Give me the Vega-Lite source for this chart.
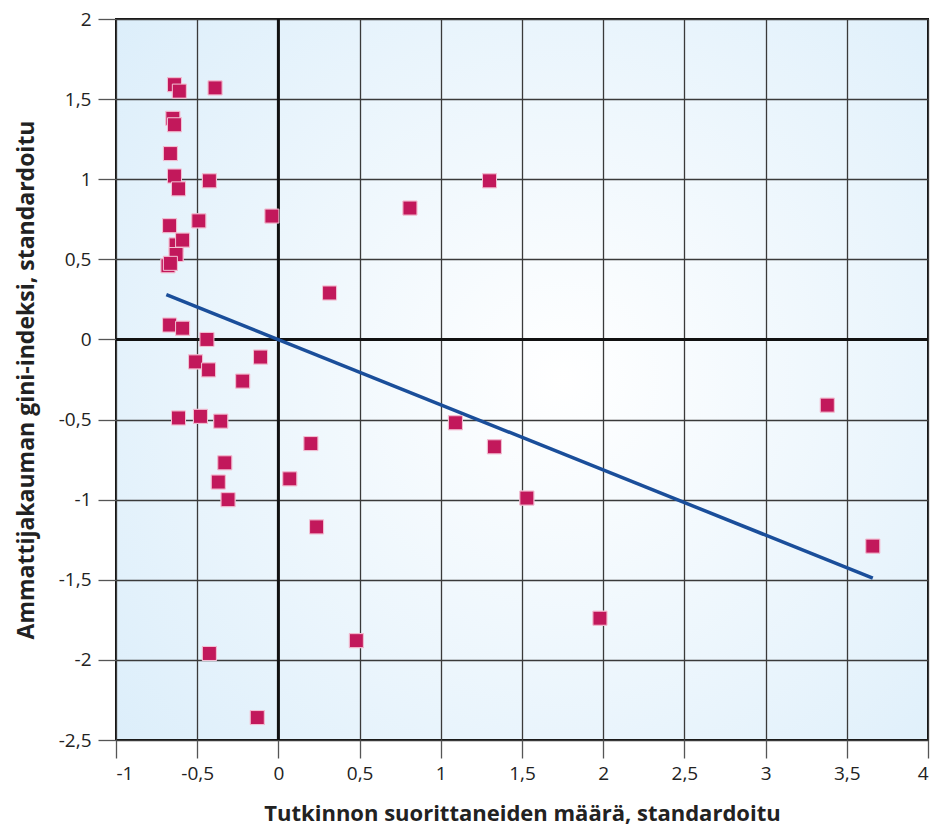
{
  "$schema": "https://vega.github.io/schema/vega-lite/v6.json",
  "width": 812,
  "height": 721,
  "autosize": {"type": "none"},
  "padding": {"left": 116, "top": 19, "right": 16, "bottom": 89},
  "background": "white",
  "config": {
    "font": "Open Sans",
    "view": {
      "stroke": "#111111",
      "strokeWidth": 2,
      "fill": {"gradient": "radial", "x1": 0.55, "y1": 0.5, "r1": 0, "x2": 0.55, "y2": 0.5, "r2": 0.75,
        "stops": [{"offset": 0, "color": "#FFFFFF"}, {"offset": 1, "color": "#DAEDFA"}]}
    },
    "axis": {
      "grid": true,
      "gridColor": "#3a3a3a",
      "gridWidth": 1.3,
      "gridOpacity": 1,
      "domain": false,
      "tickColor": "#555555",
      "tickWidth": 1.3,
      "tickSize": 18,
      "labelFont": "Open Sans",
      "labelFontSize": 19,
      "labelColor": "#222222",
      "titleFont": "Open Sans",
      "titleFontSize": 22,
      "titleFontWeight": "bold",
      "titleColor": "#222222"
    }
  },
  "datasets": {
    "points": [
      {"x": -0.64, "y": 1.59}, {"x": -0.61, "y": 1.55}, {"x": -0.39, "y": 1.57},
      {"x": -0.65, "y": 1.38}, {"x": -0.64, "y": 1.34}, {"x": -0.665, "y": 1.16},
      {"x": -0.64, "y": 1.02}, {"x": -0.615, "y": 0.94}, {"x": -0.425, "y": 0.99},
      {"x": -0.67, "y": 0.71}, {"x": -0.49, "y": 0.74}, {"x": -0.04, "y": 0.77},
      {"x": -0.63, "y": 0.59}, {"x": -0.59, "y": 0.62}, {"x": -0.63, "y": 0.53},
      {"x": -0.68, "y": 0.46}, {"x": -0.665, "y": 0.475}, {"x": -0.67, "y": 0.09},
      {"x": -0.59, "y": 0.07}, {"x": -0.44, "y": 0.0}, {"x": -0.51, "y": -0.14},
      {"x": -0.43, "y": -0.19}, {"x": -0.11, "y": -0.11}, {"x": -0.22, "y": -0.26},
      {"x": -0.615, "y": -0.49}, {"x": -0.48, "y": -0.48}, {"x": -0.355, "y": -0.51},
      {"x": -0.33, "y": -0.77}, {"x": -0.37, "y": -0.89}, {"x": -0.31, "y": -1.0},
      {"x": -0.425, "y": -1.96}, {"x": -0.13, "y": -2.36}, {"x": 0.48, "y": -1.88},
      {"x": 0.07, "y": -0.87}, {"x": 0.2, "y": -0.65}, {"x": 0.235, "y": -1.17},
      {"x": 0.315, "y": 0.29}, {"x": 0.81, "y": 0.82}, {"x": 1.3, "y": 0.99},
      {"x": 1.09, "y": -0.52}, {"x": 1.33, "y": -0.67}, {"x": 1.53, "y": -0.99},
      {"x": 1.98, "y": -1.74}, {"x": 3.38, "y": -0.41}, {"x": 3.66, "y": -1.29}
    ],
    "trend": [
      {"x": -0.69, "y": 0.28}, {"x": 3.66, "y": -1.49}
    ],
    "zero": [{"v": 0}]
  },
  "layer": [
    {
      "data": {"name": "points"},
      "mark": {"type": "square", "size": 196, "color": "#C2185B", "opacity": 1, "stroke": "#F3C4D6", "strokeWidth": 1},
      "encoding": {
        "x": {"field": "x", "type": "quantitative",
          "scale": {"domain": [-1, 4], "nice": false, "zero": false},
          "axis": {"values": [-1, -0.5, 0, 0.5, 1, 1.5, 2, 2.5, 3, 3.5, 4], "title": "Tutkinnon suorittaneiden määrä, standardoitu",
            "labelExpr": "replace(toString(datum.value), '.', ',')", "titlePadding": 20, "labelPadding": 6}},
        "y": {"field": "y", "type": "quantitative",
          "scale": {"domain": [-2.5, 2], "nice": false, "zero": false},
          "axis": {"values": [-2.5, -2, -1.5, -1, -0.5, 0, 0.5, 1, 1.5, 2], "title": "Ammattijakauman gini-indeksi, standardoitu",
            "titleFontSize": 23,
            "labelExpr": "replace(toString(datum.value), '.', ',')", "titlePadding": 20, "labelPadding": 7}}
      }
    },
    {
      "data": {"name": "zero"},
      "mark": {"type": "rule", "color": "#111111", "strokeWidth": 3},
      "encoding": {"x": {"field": "v", "type": "quantitative"}}
    },
    {
      "data": {"name": "zero"},
      "mark": {"type": "rule", "color": "#111111", "strokeWidth": 3},
      "encoding": {"y": {"field": "v", "type": "quantitative"}}
    },
    {
      "data": {"name": "trend"},
      "mark": {"type": "line", "color": "#1A4E9A", "strokeWidth": 3.5},
      "encoding": {
        "x": {"field": "x", "type": "quantitative"},
        "y": {"field": "y", "type": "quantitative"}
      }
    },
    {
      "data": {"name": "points"},
      "mark": {"type": "square", "size": 196, "color": "#C2185B", "opacity": 1, "stroke": "#F3C4D6", "strokeWidth": 1},
      "encoding": {
        "x": {"field": "x", "type": "quantitative"},
        "y": {"field": "y", "type": "quantitative"}
      }
    }
  ]
}
